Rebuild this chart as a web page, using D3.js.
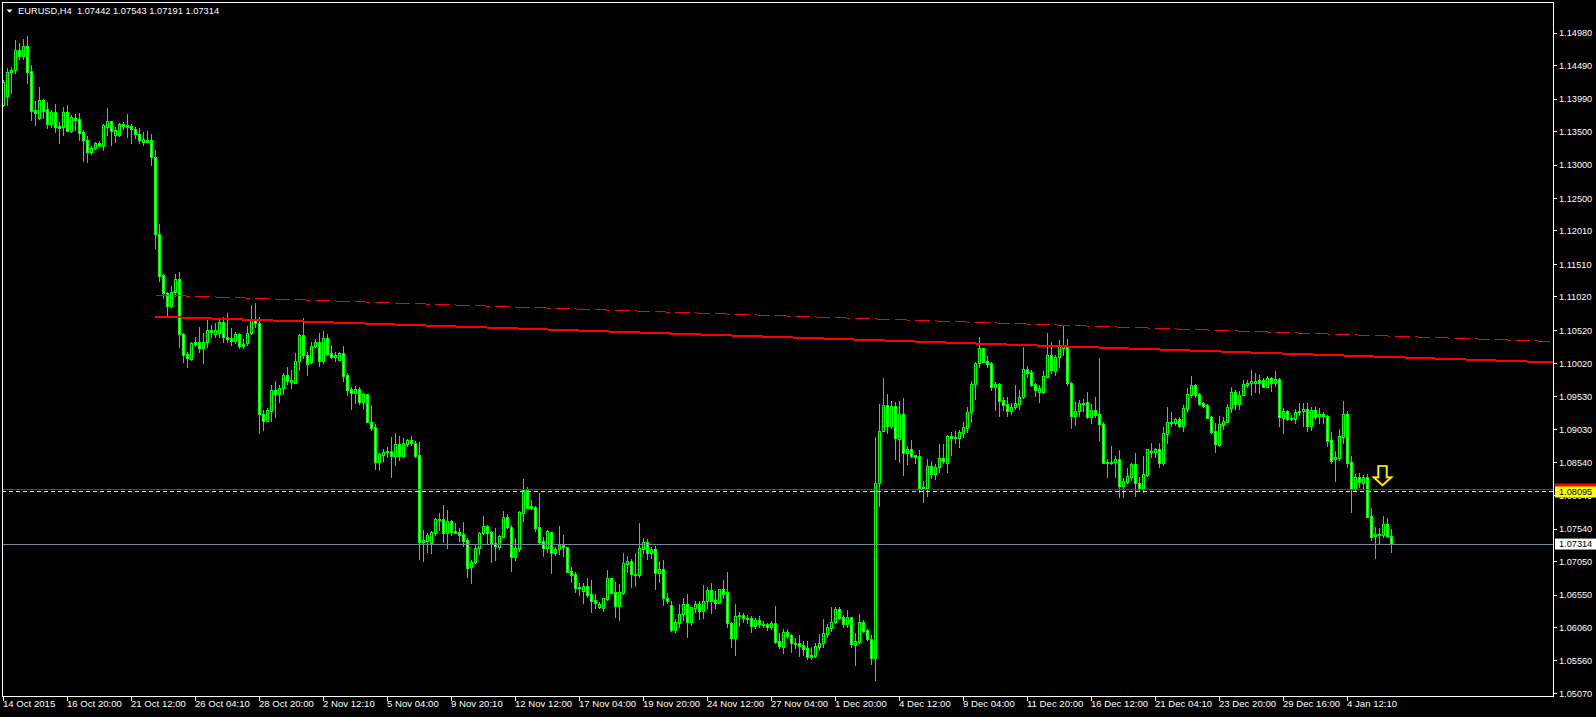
<!DOCTYPE html>
<html><head><meta charset="utf-8">
<script src="https://cdn.jsdelivr.net/npm/d3@7"></script>
<style>html,body{margin:0;padding:0;background:#000;overflow:hidden}</style>
</head><body>
<svg id="chart" width="1596" height="717"></svg>
<script>
const symbolTitle = "EURUSD,H4";
const open = [
1.13900,1.14035,1.14395,1.14425,1.14725,1.14635,1.14785,1.14410,1.13825,1.13705,
1.13975,1.13840,1.13615,1.13795,1.13585,1.13570,1.13795,1.13510,1.13705,1.13690,
1.13495,1.13375,1.13195,1.13255,1.13330,1.13285,1.13570,1.13660,1.13450,1.13450,
1.13615,1.13600,1.13585,1.13540,1.13465,1.13345,1.13375,1.13375,1.13120,1.11965,
1.11350,1.11080,1.10885,1.11095,1.11290,1.10465,1.10165,1.10090,1.10345,1.10345,
1.10255,1.10345,1.10525,1.10465,1.10480,1.10645,1.10420,1.10405,1.10360,1.10465,
1.10315,1.10330,1.10480,1.10675,1.10630,1.09265,1.09160,1.09310,1.09625,1.09565,
1.09655,1.09850,1.09745,1.09730,1.10060,1.10450,1.10150,1.10045,1.10285,1.10345,
1.10060,1.10405,1.10180,1.10120,1.10075,1.10180,1.09850,1.09640,1.09580,1.09640,
1.09445,1.09565,1.09145,1.09070,1.08545,1.08650,1.08695,1.08710,1.08635,1.08815,
1.08635,1.08815,1.08875,1.08830,1.08650,1.07345,1.07360,1.07330,1.07480,1.07690,
1.07690,1.07480,1.07660,1.07510,1.07495,1.07465,1.07375,1.06970,1.07045,1.07255,
1.07480,1.07585,1.07495,1.07330,1.07270,1.07420,1.07720,1.07570,1.07120,1.07240,
1.07780,1.08125,1.07885,1.07870,1.07570,1.07360,1.07255,1.07495,1.07180,1.07240,
1.07300,1.07270,1.06910,1.06865,1.06655,1.06610,1.06685,1.06565,1.06475,1.06370,
1.06355,1.06490,1.06805,1.06595,1.06385,1.06580,1.07015,1.07060,1.06865,1.06850,
1.07240,1.07345,1.07180,1.07240,1.06880,1.06940,1.06505,1.06400,1.06025,1.06130,
1.06265,1.06415,1.06145,1.06355,1.06415,1.06310,1.06460,1.06625,1.06475,1.06430,
1.06640,1.06595,1.06130,1.05905,1.06235,1.06250,1.06205,1.06205,1.06085,1.06175,
1.06115,1.06115,1.06070,1.06130,1.05860,1.05770,1.05995,1.05950,1.05830,1.05830,
1.05800,1.05755,1.05650,1.05635,1.05770,1.05830,1.05965,1.06055,1.06145,1.06340,
1.06220,1.06115,1.06220,1.05800,1.05845,1.06145,1.06025,1.05890,1.05605,1.08230,
1.09010,1.09400,1.09085,1.09385,1.08890,1.09265,1.08680,1.08740,1.08650,1.08635,
1.08170,1.08155,1.08485,1.08365,1.08470,1.08605,1.08530,1.08935,1.08920,1.08905,
1.08980,1.09055,1.09295,1.09715,1.10030,1.10255,1.10060,1.10030,1.09670,1.09715,
1.09475,1.09415,1.09310,1.09370,1.09415,1.09520,1.09940,1.09895,1.09715,1.09595,
1.09595,1.09820,1.10150,1.09910,1.10120,1.10255,1.10270,1.09730,1.09235,1.09310,
1.09430,1.09445,1.09220,1.09325,1.09265,1.09115,1.08545,1.08530,1.08545,1.08590,
1.08185,1.08245,1.08320,1.08515,1.08230,1.08155,1.08350,1.08710,1.08695,1.08740,
1.08530,1.08965,1.09145,1.09130,1.09190,1.09085,1.09340,1.09550,1.09700,1.09565,
1.09430,1.09400,1.09220,1.09010,1.08800,1.09100,1.09145,1.09355,1.09595,1.09415,
1.09550,1.09700,1.09730,1.09730,1.09775,1.09775,1.09670,1.09805,1.09730,1.09790,
1.09205,1.09310,1.09205,1.09190,1.09295,1.09310,1.09340,1.09085,1.09325,1.09235,
1.09265,1.09235,1.08875,1.08590,1.08605,1.08920,1.09265,1.08545,1.08140,1.08320,
1.08230,1.08320,1.07735,1.07435,1.07465,1.07450,1.07615,1.07442];
const close = [
1.14245,1.14395,1.14425,1.14725,1.14635,1.14785,1.14395,1.13810,1.13780,1.13975,
1.13810,1.13615,1.13795,1.13570,1.13555,1.13795,1.13510,1.13720,1.13675,1.13480,
1.13375,1.13195,1.13255,1.13330,1.13285,1.13600,1.13660,1.13510,1.13525,1.13615,
1.13585,1.13570,1.13540,1.13465,1.13375,1.13390,1.13345,1.13120,1.11965,1.11335,
1.11080,1.10885,1.11095,1.11290,1.10465,1.10150,1.10105,1.10330,1.10315,1.10255,
1.10345,1.10525,1.10495,1.10525,1.10645,1.10420,1.10390,1.10360,1.10465,1.10285,
1.10285,1.10480,1.10675,1.10630,1.09265,1.09160,1.09325,1.09625,1.09565,1.09655,
1.09850,1.09760,1.09775,1.10060,1.10450,1.10150,1.10015,1.10285,1.10345,1.10060,
1.10405,1.10165,1.10120,1.10150,1.10180,1.09835,1.09625,1.09580,1.09640,1.09445,
1.09565,1.09145,1.09055,1.08545,1.08665,1.08695,1.08710,1.08635,1.08815,1.08635,
1.08830,1.08875,1.08830,1.08635,1.07345,1.07375,1.07450,1.07495,1.07690,1.07675,
1.07480,1.07660,1.07495,1.07480,1.07450,1.07360,1.06955,1.07045,1.07255,1.07480,
1.07585,1.07480,1.07330,1.07285,1.07435,1.07720,1.07570,1.07120,1.07255,1.07795,
1.08125,1.07855,1.07855,1.07555,1.07345,1.07255,1.07510,1.07180,1.07240,1.07300,
1.07270,1.06895,1.06850,1.06655,1.06670,1.06685,1.06550,1.06460,1.06430,1.06415,
1.06505,1.06805,1.06580,1.06385,1.06595,1.07030,1.07060,1.06865,1.06850,1.07255,
1.07345,1.07180,1.07240,1.06880,1.06940,1.06505,1.06460,1.06025,1.06145,1.06265,
1.06415,1.06145,1.06370,1.06415,1.06310,1.06460,1.06625,1.06460,1.06430,1.06640,
1.06565,1.06130,1.05905,1.06235,1.06250,1.06205,1.06190,1.06085,1.06175,1.06115,
1.06100,1.06070,1.06130,1.05845,1.05785,1.05995,1.05935,1.05830,1.05815,1.05785,
1.05740,1.05620,1.05620,1.05785,1.05830,1.05980,1.06070,1.06145,1.06340,1.06205,
1.06115,1.06220,1.05815,1.05860,1.06145,1.06010,1.05890,1.05605,1.08230,1.09010,
1.09400,1.09085,1.09385,1.08905,1.09265,1.08680,1.08740,1.08635,1.08620,1.08155,
1.08155,1.08485,1.08365,1.08470,1.08605,1.08560,1.08935,1.08905,1.08905,1.08995,
1.09070,1.09295,1.09715,1.10030,1.10255,1.10045,1.10015,1.09670,1.09715,1.09460,
1.09400,1.09310,1.09370,1.09430,1.09520,1.09940,1.09880,1.09700,1.09625,1.09655,
1.09835,1.10150,1.09925,1.10120,1.10300,1.10285,1.09730,1.09235,1.09310,1.09430,
1.09415,1.09220,1.09325,1.09250,1.09115,1.08530,1.08530,1.08545,1.08590,1.08185,
1.08260,1.08335,1.08515,1.08230,1.08155,1.08365,1.08740,1.08695,1.08740,1.08530,
1.08980,1.09145,1.09130,1.09190,1.09085,1.09355,1.09565,1.09700,1.09550,1.09415,
1.09385,1.09205,1.08995,1.08815,1.09115,1.09160,1.09370,1.09595,1.09415,1.09550,
1.09715,1.09730,1.09760,1.09760,1.09730,1.09670,1.09805,1.09730,1.09790,1.09220,
1.09310,1.09190,1.09190,1.09295,1.09310,1.09340,1.09085,1.09325,1.09220,1.09265,
1.09235,1.08860,1.08560,1.08620,1.08935,1.09265,1.08530,1.08140,1.08320,1.08245,
1.08320,1.07720,1.07420,1.07465,1.07450,1.07615,1.07435,1.07314];
const high = [
1.14275,1.14455,1.14470,1.14875,1.14830,1.14890,1.14935,1.14500,1.13960,1.14170,
1.13990,1.13945,1.13825,1.13915,1.13645,1.13870,1.13900,1.13750,1.13765,1.13780,
1.13525,1.13435,1.13285,1.13345,1.13360,1.13615,1.13855,1.13660,1.13570,1.13630,
1.13645,1.13765,1.13615,1.13570,1.13555,1.13495,1.13510,1.13465,1.13225,1.12115,
1.11365,1.11095,1.11185,1.11365,1.11395,1.10480,1.10195,1.10345,1.10420,1.10570,
1.10480,1.10675,1.10600,1.10630,1.10690,1.10720,1.10780,1.10555,1.10495,1.10480,
1.10390,1.10585,1.10900,1.10930,1.10720,1.09325,1.09355,1.09700,1.09760,1.09700,
1.09880,1.09970,1.09925,1.10180,1.10465,1.10705,1.10195,1.10345,1.10390,1.10480,
1.10510,1.10465,1.10300,1.10195,1.10195,1.10285,1.09880,1.09670,1.09685,1.09670,
1.09580,1.09565,1.09400,1.09115,1.08680,1.08740,1.08770,1.08920,1.08980,1.08935,
1.08905,1.08890,1.08935,1.08860,1.08845,1.07525,1.07480,1.07510,1.07705,1.07780,
1.07900,1.07825,1.07675,1.07630,1.07555,1.07645,1.07405,1.07075,1.07300,1.07495,
1.07735,1.07600,1.07510,1.07555,1.07450,1.07810,1.07765,1.07600,1.07405,1.07810,
1.08290,1.08170,1.07975,1.07885,1.08080,1.07420,1.07525,1.07495,1.07270,1.07585,
1.07450,1.07270,1.06970,1.06895,1.06730,1.06730,1.06805,1.06775,1.06565,1.06445,
1.06505,1.06925,1.06805,1.06745,1.06715,1.07180,1.07135,1.07090,1.07180,1.07630,
1.07405,1.07390,1.07270,1.07285,1.07060,1.07075,1.06580,1.06460,1.06190,1.06415,
1.06505,1.06565,1.06370,1.06460,1.06460,1.06700,1.06670,1.06730,1.06610,1.06640,
1.06775,1.06895,1.06145,1.06415,1.06295,1.06280,1.06250,1.06235,1.06205,1.06235,
1.06160,1.06130,1.06160,1.06385,1.05980,1.06040,1.06040,1.05965,1.05905,1.05950,
1.05860,1.05860,1.05770,1.05830,1.05965,1.06190,1.06115,1.06370,1.06370,1.06370,
1.06250,1.06325,1.06220,1.05980,1.06265,1.06175,1.06040,1.05950,1.08920,1.09415,
1.09805,1.09565,1.09460,1.09445,1.09460,1.09505,1.08785,1.08875,1.08650,1.08725,
1.08260,1.08590,1.08560,1.08515,1.08815,1.08815,1.08950,1.08995,1.09010,1.09025,
1.09145,1.09370,1.09760,1.10045,1.10420,1.10255,1.10135,1.10045,1.09745,1.09730,
1.09520,1.09520,1.09430,1.09700,1.09625,1.10270,1.09985,1.09925,1.09730,1.09700,
1.09910,1.10480,1.10345,1.10150,1.10375,1.10600,1.10390,1.09745,1.09445,1.09475,
1.09490,1.09595,1.09415,1.09520,1.10105,1.09145,1.08590,1.08785,1.08635,1.08725,
1.08305,1.08455,1.08530,1.08680,1.08320,1.08635,1.08740,1.08830,1.08755,1.08830,
1.09070,1.09370,1.09295,1.09205,1.09220,1.09400,1.09655,1.09835,1.09715,1.09580,
1.09445,1.09415,1.09235,1.09130,1.09235,1.09220,1.09415,1.09670,1.09625,1.09610,
1.09775,1.09775,1.09925,1.09880,1.09850,1.09805,1.09835,1.09820,1.09910,1.09805,
1.09355,1.09325,1.09250,1.09340,1.09430,1.09430,1.09430,1.09370,1.09370,1.09355,
1.09295,1.09250,1.08995,1.08710,1.09040,1.09460,1.09310,1.08635,1.08365,1.08380,
1.08350,1.08365,1.07855,1.07570,1.07555,1.07735,1.07705,1.07543];
const low = [
1.13885,1.13900,1.14080,1.14380,1.14590,1.14590,1.14230,1.13675,1.13600,1.13690,
1.13705,1.13555,1.13570,1.13495,1.13330,1.13450,1.13510,1.13495,1.13525,1.13375,
1.13060,1.13045,1.13165,1.13240,1.13285,1.13225,1.13450,1.13300,1.13345,1.13435,
1.13540,1.13420,1.13330,1.13405,1.13330,1.13300,1.13345,1.13000,1.11755,1.11260,
1.11005,1.10735,1.10870,1.11035,1.10270,1.10045,1.09970,1.10075,1.10285,1.10195,
1.10030,1.10270,1.10420,1.10420,1.10420,1.10345,1.10345,1.10300,1.10330,1.10255,
1.10255,1.10300,1.10465,1.10570,1.08980,1.09025,1.09160,1.09160,1.09220,1.09445,
1.09565,1.09715,1.09655,1.09730,1.09925,1.10105,1.09850,1.10030,1.10270,1.09985,
1.10030,1.10150,1.10105,1.10060,1.10075,1.09760,1.09550,1.09340,1.09430,1.09415,
1.09355,1.09145,1.09025,1.08440,1.08425,1.08560,1.08620,1.08320,1.08500,1.08575,
1.08620,1.08785,1.08800,1.08620,1.07090,1.07060,1.07195,1.07180,1.07450,1.07525,
1.07345,1.07255,1.07450,1.07480,1.07360,1.07285,1.06820,1.06730,1.07030,1.07165,
1.07465,1.07315,1.07045,1.07075,1.07240,1.07420,1.07555,1.06910,1.07075,1.07210,
1.07660,1.07855,1.07840,1.07510,1.07330,1.07135,1.07195,1.06880,1.07150,1.07165,
1.07135,1.06895,1.06745,1.06595,1.06550,1.06430,1.06520,1.06295,1.06355,1.06355,
1.06310,1.06475,1.06580,1.06220,1.06175,1.06565,1.06895,1.06670,1.06685,1.06820,
1.07180,1.07090,1.07105,1.06640,1.06745,1.06400,1.06430,1.06010,1.05995,1.06070,
1.06175,1.05920,1.06100,1.06295,1.06190,1.06205,1.06355,1.06280,1.06355,1.06430,
1.06505,1.06070,1.05770,1.05650,1.06085,1.06145,1.06130,1.05995,1.06055,1.06070,
1.06070,1.06025,1.06040,1.05830,1.05755,1.05680,1.05905,1.05695,1.05755,1.05635,
1.05650,1.05590,1.05590,1.05620,1.05725,1.05770,1.05920,1.06010,1.06130,1.06190,
1.06070,1.06070,1.05770,1.05500,1.05830,1.05995,1.05875,1.05515,1.05275,1.07885,
1.09010,1.08980,1.09055,1.08590,1.08545,1.08350,1.08515,1.08620,1.08530,1.08095,
1.07945,1.08035,1.08305,1.08290,1.08395,1.08530,1.08395,1.08650,1.08830,1.08770,
1.08920,1.08995,1.09145,1.09490,1.09970,1.10045,1.09970,1.09625,1.09325,1.09235,
1.09325,1.09235,1.09265,1.09340,1.09340,1.09505,1.09820,1.09685,1.09535,1.09445,
1.09580,1.09820,1.09880,1.09850,1.09970,1.10150,1.09700,1.09055,1.09100,1.09235,
1.09310,1.09205,1.09130,1.09220,1.08875,1.08530,1.08320,1.08515,1.08320,1.08020,
1.08020,1.08230,1.08275,1.08035,1.08125,1.08095,1.08335,1.08620,1.08620,1.08470,
1.08500,1.08830,1.09085,1.09100,1.09070,1.09010,1.09295,1.09520,1.09520,1.09400,
1.09370,1.09205,1.08980,1.08695,1.08785,1.09040,1.09145,1.09295,1.09340,1.09340,
1.09550,1.09670,1.09550,1.09595,1.09580,1.09670,1.09670,1.09610,1.09685,1.09085,
1.08980,1.09175,1.09175,1.09130,1.09250,1.09085,1.09010,1.09025,1.09190,1.09130,
1.09130,1.08785,1.08530,1.08260,1.08575,1.08830,1.08470,1.07795,1.08110,1.08170,
1.08155,1.07720,1.07375,1.07105,1.07330,1.07420,1.07420,1.07191];
const timeLabels = ["14 Oct 2015","16 Oct 20:00","21 Oct 12:00","26 Oct 04:10","28 Oct 20:00","2 Nov 12:10","5 Nov 04:00","9 Nov 20:10","12 Nov 12:00","17 Nov 04:00","19 Nov 20:00","24 Nov 12:00","27 Nov 04:00","1 Dec 20:00","4 Dec 12:00","9 Dec 04:00","11 Dec 20:00","16 Dec 12:00","21 Dec 04:10","23 Dec 20:00","29 Dec 16:00","4 Jan 12:10"];
const barsPerTimeLabel = 16;
const priceTicks = ["1.14980","1.14490","1.13990","1.13500","1.13000","1.12500","1.12010","1.11510","1.11020","1.10520","1.10020","1.09530","1.09030","1.08540","1.08040","1.07540","1.07050","1.06550","1.06060","1.05560","1.05070"];
// chart objects
const trendSolid = {bars:[38,326], prices:[1.10725,1.10160]};
const trendDashed = {bars:[38,326], prices:[1.11050,1.10475]};
const redLevel = 1.08140;
const yellowLevel = 1.08095;
const arrowBar = 345, arrowPrice = 1.08485;

const W = 1596, H = 717;
const L = 2, R = 1553, T = 2, B = 696;
const lime = "#00ff00";
const FONT = "'Liberation Sans', Arial, sans-serif";
const svg = d3.select("#chart");
svg.append("rect").attr("width",W).attr("height",H).attr("fill","#000");

const n = open.length;
const bars = open.map((o,i)=>({i, o, h:high[i], l:low[i], c:close[i]}));
const x = d3.scaleLinear().domain([0, 387]).range([3.5, 3.5 + 4*387]);
const y = d3.scaleLinear().domain([1.0508, 1.1498]).range([693, 33]);

svg.append("defs").append("clipPath").attr("id","plot")
  .append("rect").attr("x",L).attr("y",T).attr("width",R-L).attr("height",B-T);

// candles
const cg = svg.append("g").attr("clip-path","url(#plot)").attr("shape-rendering","crispEdges");
const cand = cg.selectAll("g.c").data(bars).join("g").attr("class","c");
cand.append("rect")
  .attr("x", d=>x(d.i)-0.5).attr("width",1)
  .attr("y", d=>Math.round(y(d.h)))
  .attr("height", d=>Math.max(1, Math.round(y(d.l))-Math.round(y(d.h))+1))
  .attr("fill", lime);
cand.append("rect")
  .attr("x", d=>x(d.i)-1.5).attr("width",3)
  .attr("y", d=>Math.round(y(Math.max(d.o,d.c))))
  .attr("height", d=>Math.round(y(Math.min(d.o,d.c)))-Math.round(y(Math.max(d.o,d.c)))+1)
  .attr("fill", lime);
cand.filter(d=>Math.round(y(Math.min(d.o,d.c)))-Math.round(y(Math.max(d.o,d.c)))>=2)
  .append("rect")
  .attr("x", d=>x(d.i)-0.5).attr("width",1)
  .attr("y", d=>Math.round(y(Math.max(d.o,d.c)))+1)
  .attr("height", d=>Math.round(y(Math.min(d.o,d.c)))-Math.round(y(Math.max(d.o,d.c)))-1)
  .attr("fill", d=> d.c < d.o ? "#ffffff" : "#000000");

// objects
const og = svg.append("g").attr("clip-path","url(#plot)");
function ray(t){
  const slope = (t.prices[1]-t.prices[0])/(t.bars[1]-t.bars[0]);
  const endBar = x.invert(R);
  return [[x(t.bars[0]), y(t.prices[0])],[x(endBar), y(t.prices[0]+slope*(endBar-t.bars[0]))]];
}
const ds = ray(trendDashed);
og.append("line").attr("x1",ds[0][0]).attr("y1",ds[0][1]).attr("x2",ds[1][0]).attr("y2",ds[1][1])
  .attr("stroke","#ff0000").attr("stroke-width",1).attr("stroke-dasharray","15,5").attr("shape-rendering","crispEdges");
const ss = ray(trendSolid);
og.append("line").attr("x1",ss[0][0]).attr("y1",ss[0][1]).attr("x2",ss[1][0]).attr("y2",ss[1][1])
  .attr("stroke","#ff0000").attr("stroke-width",2).attr("shape-rendering","crispEdges");

const yr = Math.floor(y(redLevel))+0.5;
og.append("line").attr("x1",L).attr("x2",R).attr("y1",yr).attr("y2",yr).attr("stroke","#ff0000").attr("stroke-width",1);
const yy = Math.floor(y(yellowLevel))+0.5;
og.append("line").attr("x1",L).attr("x2",R).attr("y1",yy).attr("y2",yy).attr("stroke","#ffff00").attr("stroke-width",1).attr("stroke-dasharray","4,3");
const lastClose = close[n-1];
const yb = Math.floor(y(lastClose))+0.5;
og.append("line").attr("x1",L).attr("x2",R).attr("y1",yb).attr("y2",yb).attr("stroke","#778899").attr("stroke-width",1);

// arrow
const ax = x(arrowBar)-1, ay = y(arrowPrice);
const arrowPath = `M${ax-4.2},${ay} L${ax+4.2},${ay} L${ax+4.2},${ay+11.3} L${ax+8.8},${ay+11.3} L${ax},${ay+19.3} L${ax-8.8},${ay+11.3} L${ax-4.2},${ay+11.3} Z`;
og.append("path").attr("d",arrowPath).attr("fill","none").attr("stroke","#c89000").attr("stroke-width",2.2);
og.append("path").attr("d",arrowPath).attr("fill","none").attr("stroke","#ffff00").attr("stroke-width",1.2);

// frame
svg.append("rect").attr("x",L+0.5).attr("y",T+0.5).attr("width",R-L).attr("height",B-T)
  .attr("fill","none").attr("stroke","#ffffff").attr("stroke-width",1).attr("shape-rendering","crispEdges");

// price axis
const pa = svg.append("g");
priceTicks.forEach(t=>{
  const v = +t, py = y(v);
  pa.append("line").attr("x1",R+0.5).attr("x2",R+4).attr("y1",Math.floor(py)+0.5).attr("y2",Math.floor(py)+0.5)
    .attr("stroke","#fff").attr("stroke-width",1).attr("shape-rendering","crispEdges");
  pa.append("text").attr("x",R+6).attr("y",py+3.3).text(t)
    .attr("fill","#fff").attr("font-family",FONT).attr("font-size","9.2px");
});
function priceBox(v, bg, fg, withText){
  const py = y(v);
  pa.append("rect").attr("x",R+2).attr("y",py-5.5).attr("width",W-R-2).attr("height",11).attr("fill",bg);
  if (withText) pa.append("text").attr("x",R+6).attr("y",py+3.3).text(v.toFixed(5))
    .attr("fill",fg).attr("font-family",FONT).attr("font-size","9.2px");
}
priceBox(redLevel, "#ff0000", "#000", false);
priceBox(yellowLevel, "#ffff00", "#000", true);
priceBox(lastClose, "#ffffff", "#000", true);

// time axis
const ta = svg.append("g");
timeLabels.forEach((lab,k)=>{
  const tx = x(k*barsPerTimeLabel);
  ta.append("line").attr("x1",tx).attr("x2",tx).attr("y1",B).attr("y2",B+4.5)
    .attr("stroke","#fff").attr("stroke-width",1).attr("shape-rendering","crispEdges");
  ta.append("text").attr("x",tx-0.5).attr("y",707).text(lab)
    .attr("fill","#fff").attr("font-family",FONT).attr("font-size","9.6px");
});

// header
svg.append("path").attr("d","M6.5,9.5 L12.5,9.5 L9.5,12.8 Z").attr("fill","#fff");
svg.append("text").attr("x",18).attr("y",14).attr("fill","#fff").attr("font-family",FONT).attr("font-size","9.3px")
  .text(`${symbolTitle}\u00a0 ${open[n-1].toFixed(5)} ${high[n-1].toFixed(5)} ${low[n-1].toFixed(5)} ${close[n-1].toFixed(5)}`);
</script>
</body></html>
